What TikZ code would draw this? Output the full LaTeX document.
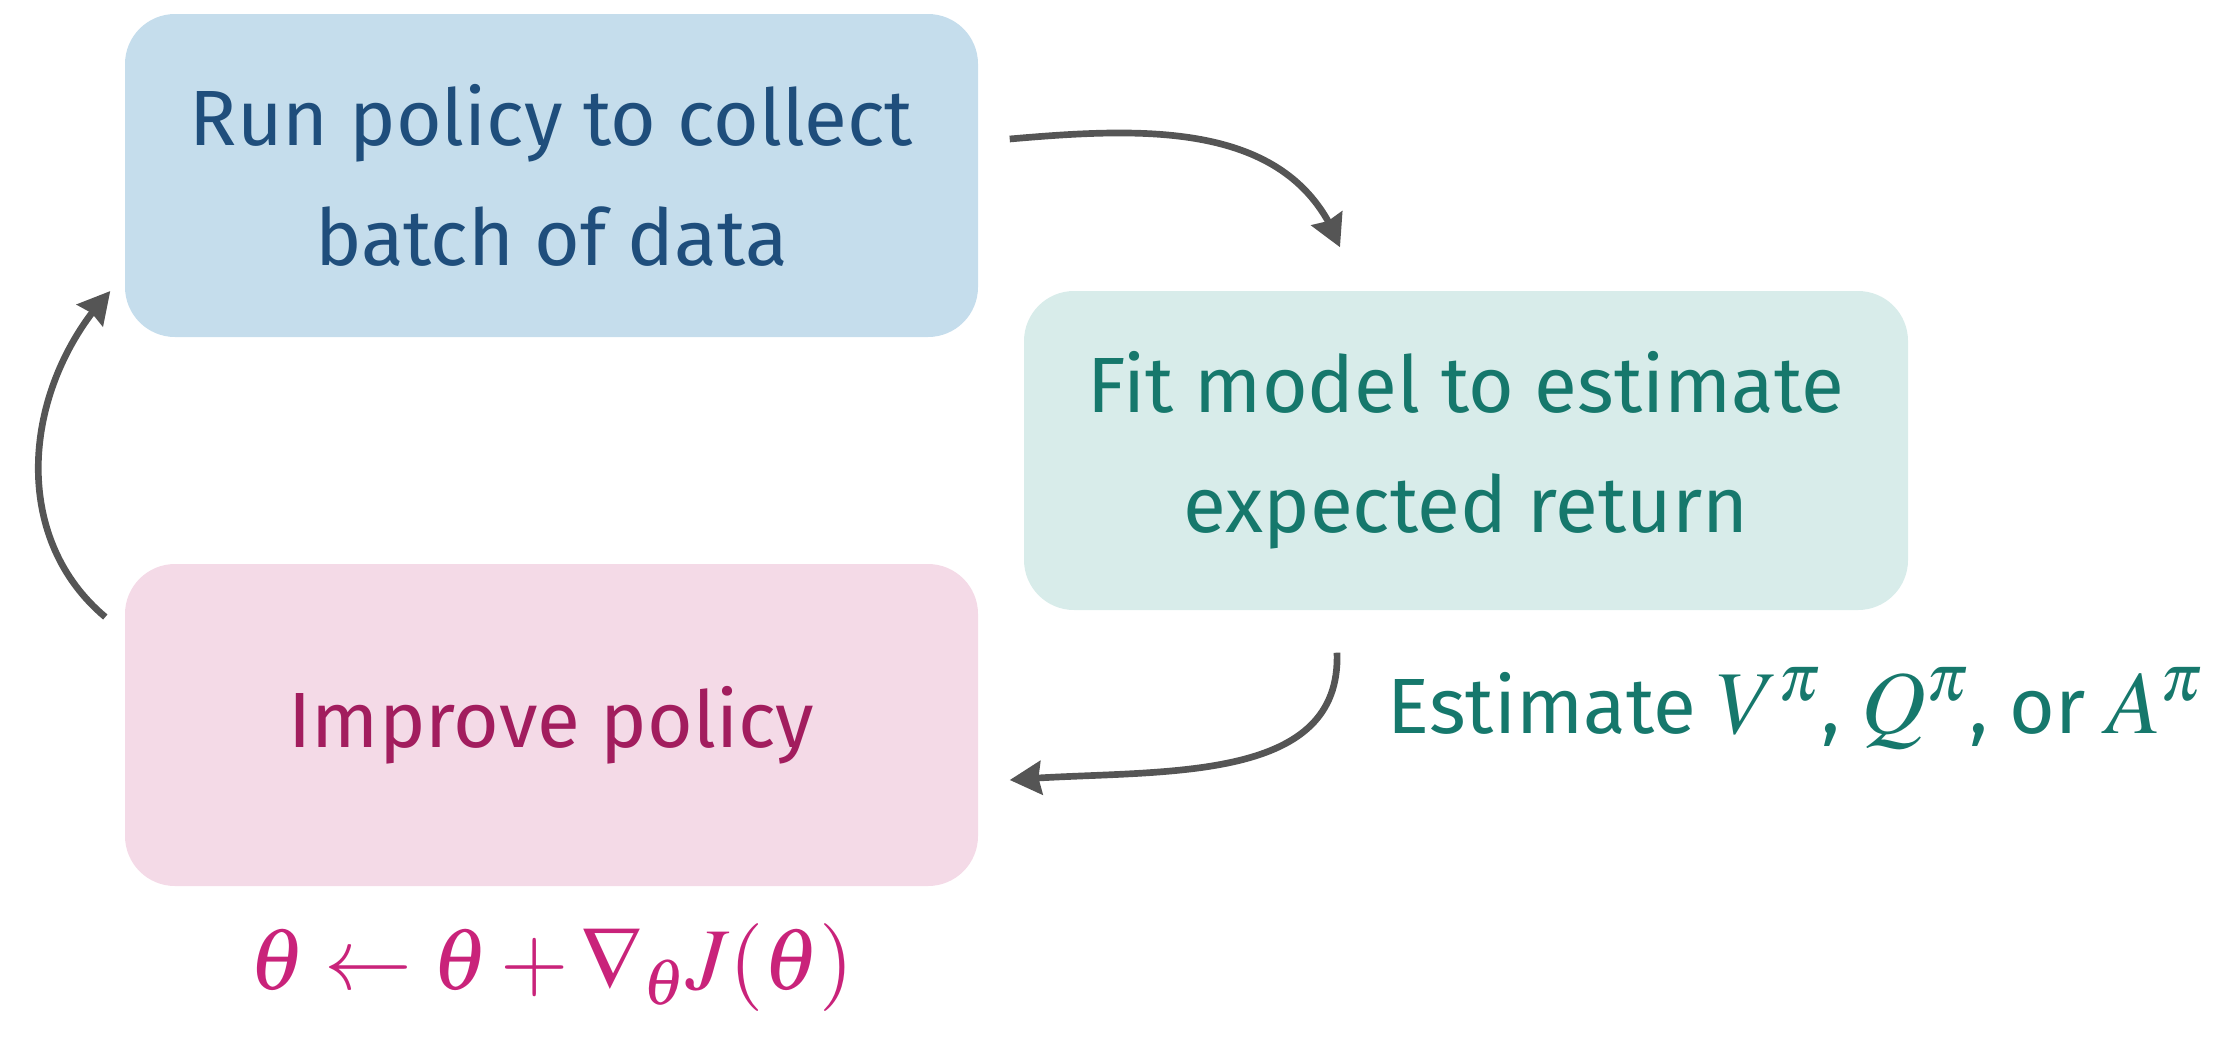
\documentclass[tikz,border=0pt]{standalone}
\usepackage{amsmath}
\usepackage{mathptmx}
\usepackage{fontspec}
\setmainfont{Fira Sans}
\usepackage{tikz}
\definecolor{runblue}{HTML}{C5DDEC}
\definecolor{runtext}{HTML}{1F4E7C}
\definecolor{fitteal}{HTML}{D8ECEA}
\definecolor{fittext}{HTML}{16786C}
\definecolor{imppink}{HTML}{F4DAE7}
\definecolor{imptext}{HTML}{A21D5E}
\definecolor{mathpink}{HTML}{C9237A}
\definecolor{arrowgray}{HTML}{555555}
\usetikzlibrary{shapes.geometric, arrows, arrows.meta, bending}
\newcommand{\bigmath}[1]{{\fontsize{25.5}{30}\selectfont$#1$}}
\tikzstyle{bblock} = [rectangle, fill=runblue, text=runtext, align=center,
minimum width=8.53cm, minimum height=3.23cm, rounded corners=0.5cm,
font=\fontsize{22.3}{34}\selectfont]
\tikzstyle{tblock} = [rectangle, fill=fitteal, text=fittext, align=center,
minimum width=8.84cm, minimum height=3.19cm, rounded corners=0.5cm,
font=\fontsize{22.3}{34}\selectfont]
\tikzstyle{pblock} = [rectangle, fill=imppink, text=imptext, align=center,
minimum width=8.53cm, minimum height=3.22cm, rounded corners=0.5cm,
font=\fontsize{22.3}{34}\selectfont]
\tikzstyle{arrow} = [line width=1.9pt, draw=arrowgray, ->, >={Stealth[length=9pt, width=9.5pt, inset=0.8pt, fill=arrowgray]}]

\begin{document}
\begin{tikzpicture}
	\useasboundingbox (0,0) rectangle (22.23,-10.36);
	\node (Run) [bblock] at (5.515,-1.755) {Run policy to collect\\batch of data};
	\node (Fit) [tblock, right of=Run, node distance=9.145cm, yshift=-2.75cm] {Fit model to estimate\\expected return};
	\node (Improve) [pblock, below of=Run, node distance=5.495cm] {Improve policy};
	\node (Est) [below of=Fit, node distance=2.585cm, xshift=3.3cm, text=fittext, font=\fontsize{22.3}{34}\selectfont] {Estimate \bigmath{V^{\pi}}, \bigmath{Q^{\pi}}, or \bigmath{A^{\pi}}};
	\node (Update) [below of=Improve, node distance=2.43cm, text=mathpink, font=\fontsize{25}{30}\selectfont] {$\theta \leftarrow \theta + \nabla_{\theta} J(\theta)$};

	\draw [arrow] ([shift={(0.31cm,0.365cm)}]Run.east) to[out=5, in=110] ([shift={(-1.26cm,0.43cm)}]Fit.north);
	\draw [arrow] ([shift={(-1.29cm,-0.42cm)}]Fit.south) to[out=-88, in=5] ([shift={(0.31cm,-0.55cm)}]Improve.east);
	\draw [arrow] ([shift={(-0.19cm,1.08cm)}]Improve.west) to[out=140, in=-133] ([shift={(-0.14cm,-1.155cm)}]Run.west);
\end{tikzpicture}
\end{document}
